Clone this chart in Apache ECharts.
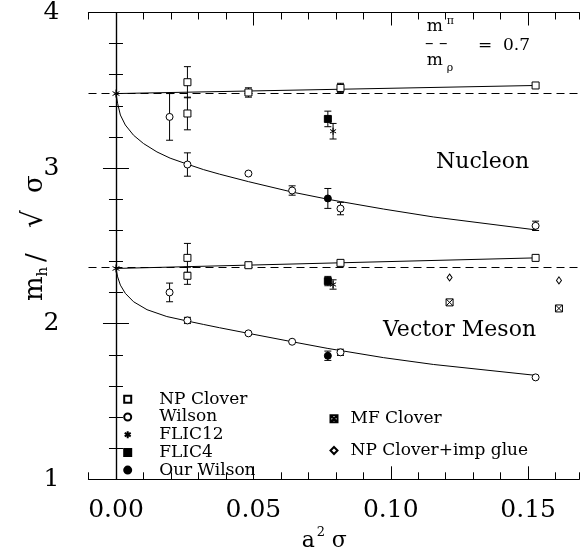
<!DOCTYPE html>
<html><head><meta charset="utf-8">
<script src="https://cdn.jsdelivr.net/npm/echarts@6/dist/echarts.min.js"></script>
<style>html,body{margin:0;padding:0;background:#fff}#c{width:587px;height:549px}</style>
</head><body><div id="c"></div>
<script>
// ---------- data: [a^2 sigma, m/sqrt(sigma), error] ----------
const nucNPClover  = [[0.026,3.552,0.10],[0.026,3.351,0.105],[0.0482,3.486,0.03],[0.0817,3.515,0.03],[0.1527,3.531,0]];
const nucWilson    = [[0.0195,3.329,0.15],[0.026,3.023,0.075],[0.0482,2.965,0],[0.0641,2.856,0.03],[0.0817,2.74,0.04],[0.1527,2.629,0.03]];
const nucFLIC12    = [[0.079,3.237,0.05]];
const nucFLIC4     = [[0.0771,3.316,0.05]];
const nucOurWilson = [[0.0771,2.805,0.064]];
const vecNPClover  = [[0.026,2.423,0.093],[0.026,2.308,0.055],[0.0482,2.376,0.012],[0.0817,2.391,0.012],[0.1527,2.423,0]];
const vecWilson    = [[0.0195,2.201,0.06],[0.026,2.021,0.02],[0.0482,1.938,0],[0.0641,1.884,0],[0.0817,1.816,0.02],[0.1527,1.655,0]];
const vecFLIC12    = [[0.079,2.252,0.03]];
const vecFLIC4     = [[0.0771,2.274,0.03]];
const vecOurWilson = [[0.0771,1.794,0.03]];
const vecMFClover  = [[0.1214,2.137],[0.1612,2.098]];
const vecImpGlue   = [[0.1214,2.297],[0.1612,2.278]];
const continuum    = [[0,3.479],[0,2.355]];
const dashedLevels = [3.479, 2.357];
// fit curves
const nucCloverFit = [[0,3.479],[0.1527,3.531]];
const vecCloverFit = [[0,2.355],[0.1527,2.423]];
const nucFitX = [0,0.0006,0.0016,0.0034,0.0064,0.010,0.0149,0.0197,0.026,0.0319,0.0377,0.0482,0.0641,0.0771,0.0817,0.0973,0.1155,0.1527];
const nucFitY = [3.479,3.415,3.341,3.277,3.211,3.158,3.104,3.064,3.025,2.990,2.961,2.913,2.846,2.800,2.785,2.737,2.686,2.603];
const vecFitX = [0,0.0006,0.0016,0.0034,0.0064,0.0113,0.0185,0.026,0.0319,0.0377,0.0482,0.0641,0.0771,0.0973,0.1155,0.1527];
const vecFitY = [2.355,2.301,2.248,2.195,2.141,2.090,2.046,2.017,1.995,1.974,1.938,1.884,1.841,1.782,1.738,1.668];
// axis ticks
const xMajorTicks = [0, 0.05, 0.10, 0.15];
const legendLeft  = ['NP Clover','Wilson','FLIC12','FLIC4','Our Wilson'];
const legendRight = ['MF Clover','NP Clover+imp glue'];

const FONT = '"DejaVu Serif", serif';
const starPath = 'path://M5,0L5,10M0.67,2.5L9.33,7.5M0.67,7.5L9.33,2.5';
const boxXPath = 'path://M0,0L10,0L10,10L0,10Z M0,0L10,10 M10,0L0,10';

function sc(name, data, symbol, size, fill) {
  return {type:'scatter', name, data: data.map(d=>[d[0],d[1]]), symbol, symbolSize:size,
    symbolKeepAspect:true, z:5, silent:true,
    itemStyle:{color:fill, borderColor:'#000', borderWidth:1, opacity:1},
    emphasis:{disabled:true}};
}
function err(name, data) {
  return {type:'custom', name, z:3, silent:true, clip:false,
    data: data.filter(d=>d[2]>0).map(d=>[d[0], d[1]-d[2], d[1]+d[2]]),
    encode:{x:0, y:[1,2]},
    renderItem(params, api) {
      const x = api.value(0);
      const lo = api.coord([x, api.value(1)]);
      const hi = api.coord([x, api.value(2)]);
      const w = 3.5, st = {stroke:'#000', lineWidth:1};
      return {type:'group', children:[
        {type:'line', shape:{x1:lo[0],y1:lo[1],x2:hi[0],y2:hi[1]}, style:st},
        {type:'line', shape:{x1:lo[0]-w,y1:lo[1],x2:lo[0]+w,y2:lo[1]}, style:st},
        {type:'line', shape:{x1:hi[0]-w,y1:hi[1],x2:hi[0]+w,y2:hi[1]}, style:st}
      ]};
    }};
}
function fit(name, data) {
  return {type:'line', name, data, showSymbol:false, symbol:'none', z:2, silent:true,
    smooth:false, lineStyle:{color:'#000', width:1}};
}
function txt(text, x, y, size, extra) {
  return Object.assign({type:'text', x, y, silent:true,
    style:{text, font: size+'px '+FONT, fill:'#000', align:'left', verticalAlign:'middle'}}, extra||{});
}

const axisLine = {show:true, lineStyle:{color:'#000', width:1.2}};
const chart = echarts.init(document.getElementById('c'), null, {renderer:'canvas'});
chart.setOption({
  animation:false,
  backgroundColor:'#fff',
  grid:{left:88.5, right:7.7, top:12.3, bottom:69.7, containLabel:false},
  xAxis:[
    {type:'value', min:-0.01, max:0.1686, interval:0.01, position:'bottom',
     axisLine, splitLine:{show:false},
     axisTick:{show:true, inside:true, length:7, lineStyle:{color:'#000', width:1}},
     axisLabel:{show:true, customValues:xMajorTicks, formatter:v=>v.toFixed(2), margin:19,
       fontFamily:FONT, fontSize:25, color:'#000'}},
    {type:'value', min:-0.01, max:0.1686, position:'bottom', axisLine:{show:false}, splitLine:{show:false},
     axisTick:{show:true, inside:true, length:13, customValues:xMajorTicks, lineStyle:{color:'#000', width:1}},
     axisLabel:{show:false}},
    {type:'value', min:-0.01, max:0.1686, interval:0.01, position:'top',
     axisLine, splitLine:{show:false},
     axisTick:{show:true, inside:true, length:7, lineStyle:{color:'#000', width:1}},
     axisLabel:{show:false}},
    {type:'value', min:-0.01, max:0.1686, position:'top', axisLine:{show:false}, splitLine:{show:false},
     axisTick:{show:true, inside:true, length:13, customValues:xMajorTicks, lineStyle:{color:'#000', width:1}},
     axisLabel:{show:false}}
  ],
  yAxis:[
    {type:'value', min:1, max:4, interval:1, position:'left', axisLine, splitLine:{show:false},
     axisTick:{show:true, inside:true, length:13, lineStyle:{color:'#000', width:1}},
     minorTick:{show:true, splitNumber:5, length:7, lineStyle:{color:'#000', width:1}},
     axisLabel:{show:true, margin:29, fontFamily:FONT, fontSize:25, color:'#000', formatter:v=>String(v)}},
    {type:'value', min:1, max:4, interval:1, position:'right', axisLine, splitLine:{show:false},
     axisTick:{show:true, inside:true, length:13, lineStyle:{color:'#000', width:1}},
     minorTick:{show:true, splitNumber:5, length:7, lineStyle:{color:'#000', width:1}},
     axisLabel:{show:false}}
  ],
  legend:[
    {data:legendLeft, orient:'vertical', left:118.2, top:385.8, itemWidth:7, itemHeight:7, itemGap:0.7,
     selectedMode:false, textStyle:{fontFamily:FONT, fontSize:17, lineHeight:17, color:'#000', padding:[0,0,0,23]}},
    {data:legendRight, orient:'vertical', left:324.5, top:405.3, itemWidth:7, itemHeight:7, itemGap:14.7,
     selectedMode:false, textStyle:{fontFamily:FONT, fontSize:17, lineHeight:17, color:'#000', padding:[0,0,0,8]}}
  ],
  series:[
    {type:'line', name:'dashed', data:[], silent:true,
     markLine:{silent:true, symbol:['none','none'], label:{show:false},
       lineStyle:{color:'#000', width:1, type:[8,5]},
       data: dashedLevels.map(v=>({yAxis:v}))}},
    fit('fitA', nucCloverFit),
    fit('fitB', vecCloverFit),
    fit('fitC', nucFitX.map((x,i)=>[x, nucFitY[i]])),
    fit('fitD', vecFitX.map((x,i)=>[x, vecFitY[i]])),
    err('e1', nucNPClover), err('e2', nucWilson), err('e3', nucFLIC12), err('e4', nucFLIC4), err('e5', nucOurWilson),
    err('e6', vecNPClover), err('e7', vecWilson), err('e8', vecFLIC12), err('e9', vecFLIC4), err('e10', vecOurWilson),
    sc('NP Clover', nucNPClover, 'rect', 7, '#fff'),
    sc('NP Clover', vecNPClover, 'rect', 7, '#fff'),
    sc('Wilson', nucWilson, 'circle', 7, '#fff'),
    sc('Wilson', vecWilson, 'circle', 7, '#fff'),
    sc('FLIC12', nucFLIC12, starPath, 7, '#000'),
    sc('FLIC12', vecFLIC12, starPath, 7, '#000'),
    sc('FLIC12', continuum, starPath, 8, '#000'),
    sc('FLIC4', nucFLIC4, 'rect', 7, '#000'),
    sc('FLIC4', vecFLIC4, 'rect', 7, '#000'),
    sc('Our Wilson', nucOurWilson, 'circle', 7, '#000'),
    sc('Our Wilson', vecOurWilson, 'circle', 7, '#000'),
    sc('MF Clover', vecMFClover, boxXPath, 7, '#fff'),
    sc('NP Clover+imp glue', vecImpGlue, 'diamond', [5,7], '#fff')
  ],
  graphic:[
    txt('Nucleon', 436, 162, 22),
    txt('Vector Meson', 383, 330.5, 22),
    txt('m', 426.7, 26.8, 17),
    txt('π', 446.7, 21.5, 11),
    txt('– –', 425, 43.3, 17),
    txt('m', 426.7, 60.8, 17),
    txt('ρ', 446.7, 68.6, 11),
    txt('=  0.7', 478, 46, 17),
    txt('a', 301.7, 541, 22),
    txt('2', 316.7, 532.5, 13),
    txt('σ', 331.7, 541, 22),
    txt('m', 35.2, 301, 26, {rotation:Math.PI/2}),
    txt('h', 43.5, 276.4, 15, {rotation:Math.PI/2}),
    txt('/', 37, 262, 26, {rotation:Math.PI/2}),
    txt('√', 34.6, 228, 28, {rotation:Math.PI/2}),
    txt('σ', 34.8, 193, 26, {rotation:Math.PI/2})
  ]
});
</script></body></html>
